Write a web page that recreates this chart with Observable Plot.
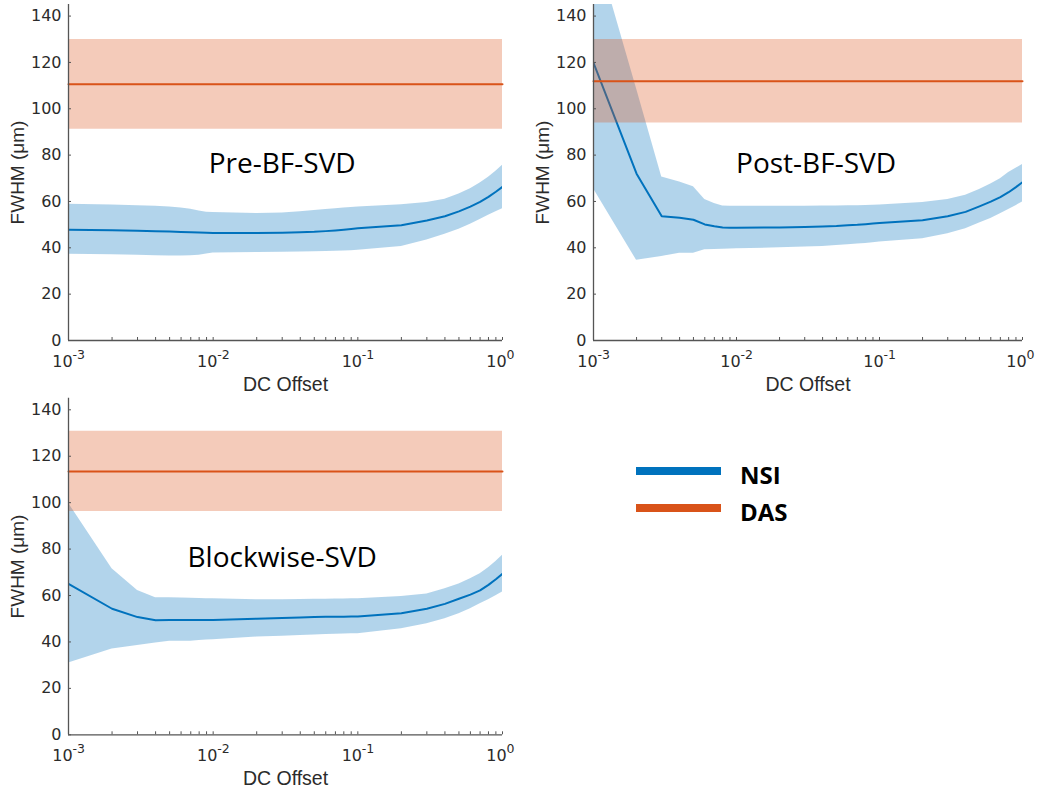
<!DOCTYPE html>
<html>
<head>
<meta charset="utf-8">
<script src="https://cdn.jsdelivr.net/npm/d3@7"></script>
<script src="https://cdn.jsdelivr.net/npm/@observablehq/plot@0.6"></script>
<style>
  body { margin: 0; background: #fff; }
  #wrap { position: relative; width: 1050px; height: 793px; overflow: hidden; }
  .panel { position: absolute; }
  .legbar { position: absolute; height: 8px; }
  .legtxt { position: absolute; font-family: "Open Sans", sans-serif; font-weight: 700; font-size: 24px; line-height: 30px; color: #000; }
</style>
</head>
<body>
<div id="wrap"></div>
<script>
// ---- data ----
const dcOffset = [0.001,0.002,0.003,0.004,0.005,0.006,0.007,0.008,0.009,
                  0.01,0.02,0.03,0.04,0.05,0.06,0.07,0.08,0.09,
                  0.1,0.2,0.3,0.4,0.5,0.6,0.7,0.8,0.9,1];

const preMean  = [47.8,47.6,47.4,47.2,47.0,46.8,46.7,46.6,46.5, 46.4,46.4,46.5,46.7,46.9,47.2,47.5,47.8,48.1, 48.4,49.7,51.8,53.6,55.7,57.8,59.8,62.0,64.2, 66.3];
const preUpper = [58.8,58.5,58.2,57.9,57.6,57.2,56.6,55.9,55.4, 55.2,54.8,55.0,55.6,56.1,56.5,56.9,57.2,57.4, 57.6,58.6,59.6,61.0,63.2,65.5,68.0,70.5,73.0, 75.6];
const preLower = [37.2,37.0,36.8,36.6,36.5,36.5,36.6,36.8,37.3, 37.8,38.0,38.1,38.2,38.3,38.4,38.5,38.6,38.7, 38.9,40.6,43.4,45.8,48.0,50.2,52.2,54.0,55.6, 56.9];

const postMean  = [119.8,72.0,53.6,53.0,52.1,50.1,49.3,48.8,48.7, 48.7,48.8,49.0,49.2,49.4,49.7,49.9,50.2,50.5, 50.7,51.9,53.6,55.5,57.9,59.9,61.9,64.0,66.2, 68.3];
const postUpper = [173.0,108.6,70.6,68.4,66.3,60.8,59.1,58.0,57.9, 57.9,57.9,57.9,58.0,58.0,58.1,58.2,58.3,58.4, 58.5,59.6,60.8,62.7,65.2,67.5,69.8,72.5,74.3, 76.0];
const postLower = [65.5,34.6,36.3,37.7,37.7,39.2,39.3,39.4,39.5, 39.6,40.0,40.3,40.6,41.0,41.3,41.6,41.9,42.2, 42.5,43.9,46.1,48.2,50.7,52.7,54.7,56.5,58.2, 59.8];

const blockMean  = [65.0,54.3,50.7,49.3,49.5,49.5,49.4,49.4,49.5, 49.5,50.0,50.3,50.5,50.7,50.8,50.9,50.9,51.0, 51.0,52.4,54.3,56.4,58.6,60.4,62.2,64.6,67.0, 69.4];
const blockUpper = [99.8,71.5,62.2,59.0,59.0,58.9,58.8,58.7,58.6, 58.6,58.2,58.2,58.3,58.4,58.4,58.5,58.5,58.6, 58.6,59.6,60.7,62.9,65.0,67.2,69.4,72.0,74.7, 77.3];
const blockLower = [30.9,37.0,38.5,39.5,40.3,40.3,40.3,40.6,40.8, 40.9,42.1,42.5,42.8,43.0,43.2,43.3,43.4,43.5, 43.5,45.7,47.8,50.0,52.1,54.3,56.4,58.2,59.9, 61.5];

const dasMean  = [110.6, 111.9, 113.4];
const dasLower = [91.2, 93.9, 96.2];
const dasUpper = [129.9, 129.9, 130.8];

const panelTitles = ["Pre-BF-SVD", "Post-BF-SVD", "Blockwise-SVD"];
const xTicks = [0.001, 0.01, 0.1, 1];
const xTickBase = "10";
const xTickExponents = ["-3", "-2", "-1", "0"];
const yTicks = [0, 20, 40, 60, 80, 100, 120, 140];
const xLabel = "DC Offset";
const yLabel = "FWHM (\u03BCm)";
const legendNames = ["NSI", "DAS"];

// ---- style ----
const blue = "#0072BD";
const orange = "#D95319";
const axisColor = "#555555";
const textColor = "#2b2b2b";

function panel(mean, upper, lower, dm, dl, du, title, titleX, L) {
  const nsi = dcOffset.map((x, i) => ({x, m: mean[i], lo: lower[i], hi: upper[i]}));
  const fw = L.width - L.ml - L.mr;
  const fh = L.height - L.mt - L.mb;
  return Plot.plot({
    width: L.width, height: L.height,
    marginLeft: L.ml, marginRight: L.mr, marginTop: L.mt, marginBottom: L.mb,
    style: {fontFamily: "DejaVu Sans", background: "transparent", overflow: "visible"},
    x: {type: "log", domain: [1e-3, 1], axis: null},
    y: {domain: [0, 145], axis: null},
    marks: [
      Plot.areaY(nsi, {x: "x", y1: "lo", y2: "hi", fill: blue, fillOpacity: 0.3, clip: true}),
      Plot.lineY(nsi, {x: "x", y: "m", stroke: blue, strokeWidth: 2, clip: true}),
      Plot.areaY(dcOffset, {x: d => d, y1: () => dl, y2: () => du, fill: orange, fillOpacity: 0.3}),
      Plot.lineY(dcOffset, {x: d => d, y: () => dm, stroke: orange, strokeWidth: 2}),
      // inward ticks
      Plot.tickX(dcOffset, {x: d => d, insetTop: fh - 3, stroke: axisColor, strokeWidth: 1}),
      Plot.tickY(yTicks, {y: d => d, insetRight: fw - 3, stroke: axisColor, strokeWidth: 1}),
      // axis lines
      Plot.ruleY([0], {stroke: axisColor, strokeWidth: 1.3}),
      Plot.ruleX([1e-3], {stroke: axisColor, strokeWidth: 1.3}),
      // x tick labels: base + superscript exponent
      Plot.text(xTicks, {x: d => d, frameAnchor: "bottom", text: () => xTickBase, dx: -6, dy: 21, lineAnchor: "middle", textAnchor: "middle", fontSize: 16, fill: textColor}),
      Plot.text(xTicks, {x: d => d, frameAnchor: "bottom", text: (d, i) => xTickExponents[i], dx: 4, dy: 14, lineAnchor: "middle", textAnchor: "start", fontSize: 12.5, fill: textColor}),
      // y tick labels
      Plot.text(yTicks, {y: d => d, frameAnchor: "left", text: d => String(d), dx: -7, textAnchor: "end", lineAnchor: "middle", fontSize: 16, fill: textColor}),
      // axis titles
      Plot.text([xLabel], {text: d => d, frameAnchor: "bottom", dy: 44, lineAnchor: "middle", textAnchor: "middle", fontSize: 19.5, fontFamily: "Liberation Sans", fill: textColor}),
      Plot.text([yLabel], {text: d => d, frameAnchor: "left", rotate: -90, dx: -51, textAnchor: "middle", lineAnchor: "middle", fontSize: 19, fontFamily: "Liberation Sans", fill: textColor}),
      // panel title
      Plot.text([title], {text: d => d, x: () => titleX, y: () => 76, fontSize: 28, fontFamily: "Open Sans", fill: "#000"})
    ]
  });
}

const wrap = document.getElementById("wrap");
const layouts = [
  {left: 0,   top: 0,   width: 520, height: 392, ml: 68, mr: 18, mt: 4,   mb: 52},
  {left: 520, top: 0,   width: 530, height: 392, ml: 73, mr: 28, mt: 4,   mb: 52},
  {left: 0,   top: 390, width: 520, height: 400, ml: 68, mr: 18, mt: 7.7, mb: 55.7}
];
const series = [
  [preMean, preUpper, preLower],
  [postMean, postUpper, postLower],
  [blockMean, blockUpper, blockLower]
];
const titleXs = [0.03, 0.036, 0.03];
layouts.forEach((L, i) => {
  const div = document.createElement("div");
  div.className = "panel";
  div.style.left = L.left + "px";
  div.style.top = L.top + "px";
  div.appendChild(panel(series[i][0], series[i][1], series[i][2], dasMean[i], dasLower[i], dasUpper[i], panelTitles[i], titleXs[i], L));
  wrap.appendChild(div);
});

// legend
const legColors = [blue, orange];
const legY = [466.5, 504];
legendNames.forEach((name, i) => {
  const bar = document.createElement("div");
  bar.className = "legbar";
  bar.style.left = "636px";
  bar.style.width = "85px";
  bar.style.top = legY[i] + "px";
  bar.style.background = legColors[i];
  wrap.appendChild(bar);
  const t = document.createElement("div");
  t.className = "legtxt";
  t.style.left = "740px";
  t.style.top = (legY[i] - 7) + "px";
  t.textContent = name;
  wrap.appendChild(t);
});
</script>
</body>
</html>
